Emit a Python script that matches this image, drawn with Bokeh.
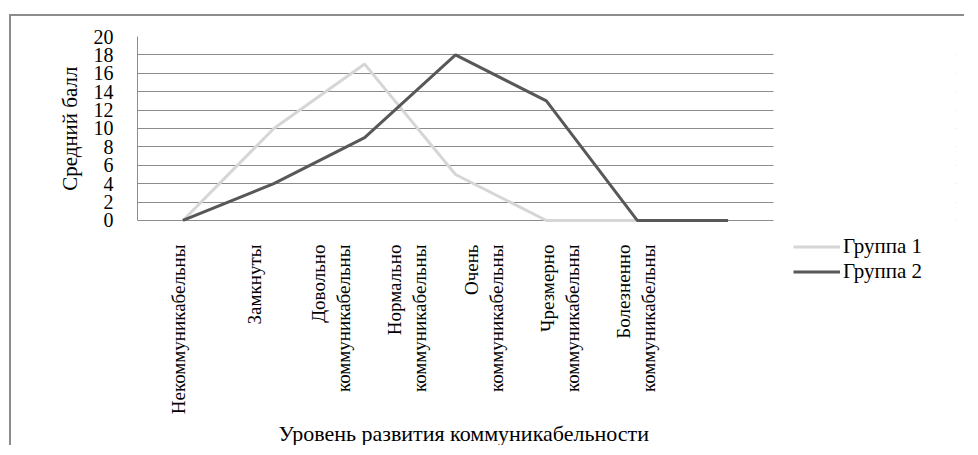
import math
from bokeh.plotting import figure
from bokeh.models import (Range1d, LinearAxis, FixedTicker, BoxAnnotation,
                          Legend, LegendItem, Title)
from bokeh.embed import file_html
from bokeh.resources import INLINE

categories = ["Некоммуникабельны", "Замкнуты", "Довольно коммуникабельны",
              "Нормально коммуникабельны", "Очень коммуникабельны",
              "Чрезмерно коммуникабельны", "Болезненно коммуникабельны"]
tick_labels = ["Некоммуникабельны", "Замкнуты", "Довольно\nкоммуникабельны",
               "Нормально\nкоммуникабельны", "Очень\nкоммуникабельны",
               "Чрезмерно\nкоммуникабельны", "Болезненно\nкоммуникабельны"]
group1 = [0, 10, 17, 5, 0, 0, 0]
group2 = [0, 4, 9, 18, 13, 0, 0]
series_names = ["Группа 1", "Группа 2"]
y_ticks = [0, 2, 4, 6, 8, 10, 12, 14, 16, 18, 20]

FONT = "Liberation Serif"
GRID = "#8c8c8c"

cat_idx = list(range(len(categories)))

p = figure(width=955, height=431,
           x_range=Range1d(-0.5, 8.514),
           y_range=Range1d(-7.07, 20),
           output_backend="svg", toolbar_location=None,
           min_border_left=126, min_border_right=10,
           min_border_top=20, min_border_bottom=162,
           styles={"margin-top": "14px", "margin-left": "9px",
                   "border-top": "2px solid #8c8c8c",
                   "border-left": "2px solid #8c8c8c"})
p.outline_line_color = None
p.background_fill_color = "white"
p.border_fill_color = "white"

p.xaxis.visible = False
p.xgrid.grid_line_color = None
p.ygrid.grid_line_color = GRID
p.ygrid.grid_line_width = 1

# white mask so the gridlines stop at the end of the category axis
p.add_layout(BoxAnnotation(left=len(categories) - 0.5, bottom=-0.5,
                           fill_color="white", fill_alpha=1.0,
                           line_color=None))

# y axis
p.yaxis.ticker = FixedTicker(ticks=y_ticks)
p.yaxis.bounds = (0, 20)
p.yaxis.axis_line_color = GRID
p.yaxis.major_tick_line_color = None
p.yaxis.minor_tick_line_color = None
p.yaxis.major_label_standoff = 18
p.yaxis.major_label_text_font = FONT
p.yaxis.major_label_text_font_size = "20px"
p.yaxis.major_label_text_color = "black"

ytitle = Title(text="Средний балл", align="right", offset=30,
               vertical_align="bottom", standoff=18,
               text_font=FONT, text_font_size="21px",
               text_font_style="normal", text_color="black")
p.add_layout(ytitle, "left")

# category label axis (labels squeezed as in the source)
p.extra_x_ranges = {"lab": Range1d(-0.537, 10.197)}
lab_axis = LinearAxis(x_range_name="lab",
                      ticker=FixedTicker(ticks=cat_idx),
                      major_label_overrides={i: t for i, t in enumerate(tick_labels)})
lab_axis.axis_line_color = None
lab_axis.major_tick_line_color = None
lab_axis.minor_tick_line_color = None
lab_axis.major_label_orientation = math.pi / 2
lab_axis.major_label_standoff = -47
lab_axis.major_label_text_font = FONT
lab_axis.major_label_text_font_size = "19px"
lab_axis.major_label_text_color = "black"
p.add_layout(lab_axis, "below")

xtitle = Title(text="Уровень развития коммуникабельности", align="left",
               offset=141, vertical_align="bottom", standoff=2,
               text_font=FONT, text_font_size="22px",
               text_font_style="normal", text_color="black")
p.add_layout(xtitle, "below")

r1 = p.line(x=cat_idx, y=group1, line_color="#d6d6d6", line_width=3)
r2 = p.line(x=cat_idx, y=group2, line_color="#585858", line_width=3)

legend = Legend(items=[LegendItem(label=series_names[0], renderers=[r1]),
                       LegendItem(label=series_names[1], renderers=[r2])],
                location=(656, 1), padding=0, margin=0, spacing=-4,
                glyph_width=47, glyph_height=19, label_standoff=3,
                label_text_font=FONT, label_text_font_size="21px",
                label_text_color="black", label_height=19,
                border_line_color=None, background_fill_alpha=0)
p.add_layout(legend, "center")

open("out.html", "w").write(file_html(p, INLINE))
